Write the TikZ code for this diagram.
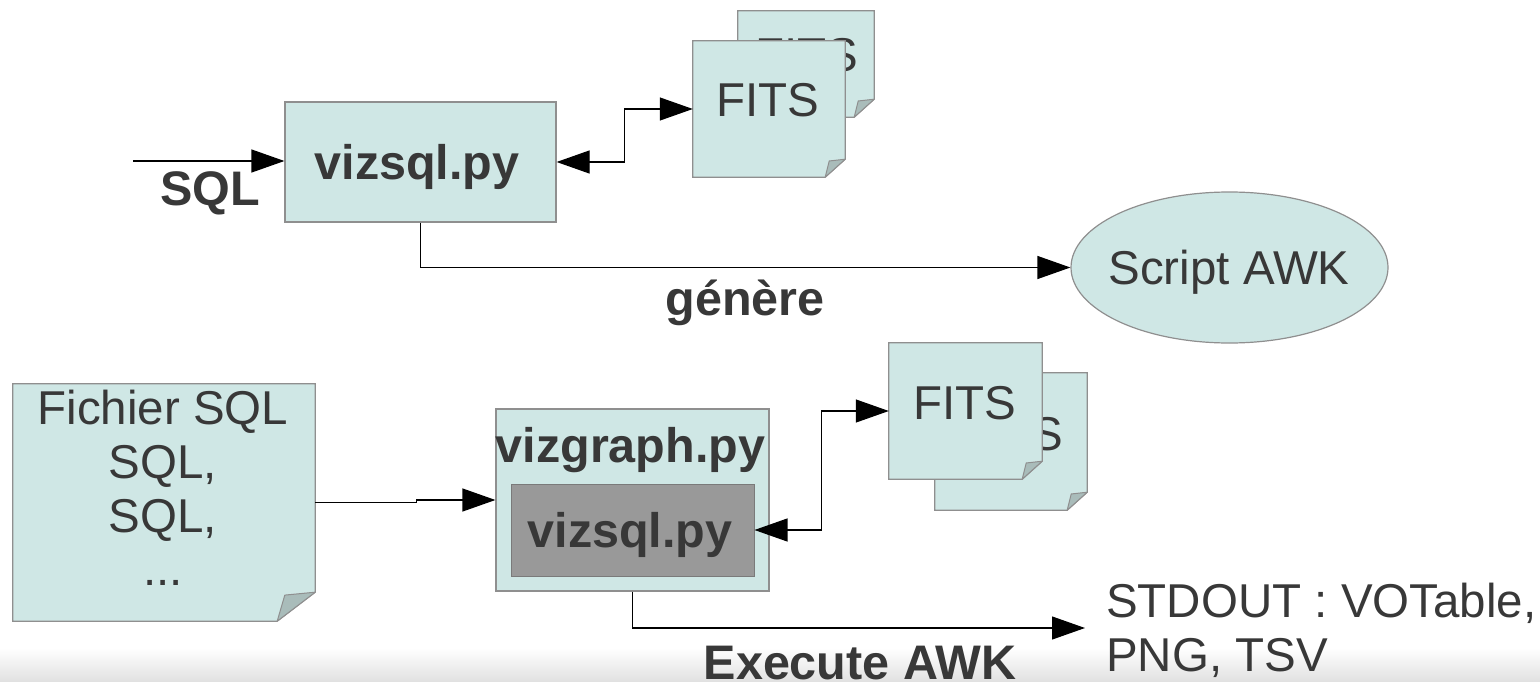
\documentclass[tikz,border=0pt]{standalone}
\usepackage{fontspec}
\setmainfont{Liberation Sans}
\usetikzlibrary{arrows.meta,shapes.geometric}
\definecolor{boxfill}{HTML}{CFE7E5}
\definecolor{boxline}{HTML}{8F8F8F}
\definecolor{foldfill}{HTML}{A9BCBA}
\definecolor{txt}{HTML}{383838}
\definecolor{innerfill}{HTML}{999999}
\definecolor{innerline}{HTML}{7A7A7A}
\tikzset{
  box/.style={rectangle, fill=boxfill, draw=boxline, line width=1.2pt, inner sep=0pt},
  frame/.style={rectangle, inner sep=0pt},
  lbl/.style={font=\fontsize{47.5}{53.7}\selectfont, text=txt, inner sep=0pt, anchor=base},
  blbl/.style={lbl, font=\fontsize{48.5}{53.7}\selectfont\bfseries},
  conn/.style={draw=black, line width=1.2pt},
  tip/.style={-{Triangle[length=33pt,width=23pt]}},
  bitip/.style={{Triangle[length=33pt,width=23pt]}-{Triangle[length=33pt,width=23pt]}},
  docfill/.style={fill=boxfill, draw=boxline, line width=1.2pt, line join=miter},
  foldst/.style={fill=foldfill, draw=boxline, line width=1pt, line join=round},
}
% #1 node name, #2 fold x size, #3 fold y size
\newcommand\docshape[3]{%
  \filldraw[docfill] (#1.north west) -- (#1.north east) -- ([yshift=#3pt]#1.south east)
    -- ([xshift=-#2pt]#1.south east) -- (#1.south west) -- cycle;
  \filldraw[foldst] ([yshift=#3pt]#1.south east) -- ([xshift=-0.8*#2pt,yshift=0.9*#3pt]#1.south east)
    -- ([xshift=-#2pt]#1.south east) -- cycle;
}
\begin{document}
\begin{tikzpicture}[x=1pt,y=-1pt]
\useasboundingbox (0,0) rectangle (1540,682);
% bottom band
\shade[top color=white, bottom color=black!12] (0,648) rectangle (1540,682);

% ---- top row ----
\node[box, minimum width=271pt, minimum height=120pt] (vizsqlA) at (420.5,162) {};
\node[blbl] (tvizsqlA) at (417,179) {vizsql.py};
\coordinate (sqlin) at (133,161);
\node[blbl] (tsql) at (210,205) {SQL};

% FITS stack (top)
\node[frame, minimum width=136pt, minimum height=106pt] (fitsA1) at (806,64) {};
\docshape{fitsA1}{20}{18}
\node[lbl] (tfitsA1) at (807,72) {FITS};
\node[frame, minimum width=152pt, minimum height=136pt] (fitsA2) at (769,109) {};
\docshape{fitsA2}{20}{18}
\node[lbl] (tfitsA2) at (768,117) {FITS};

% Script AWK
\node[ellipse, fill=boxfill, draw=boxline, line width=1.2pt, inner sep=0pt,
      minimum width=317pt, minimum height=151pt] (awk) at (1229.5,267.5) {};
\node[lbl] (tawk) at (1229,284) {Script AWK};
\node[blbl] (tgenere) at (745,315) {génère};

% ---- bottom row ----
\node[frame, minimum width=302pt, minimum height=237pt] (fichier) at (164,502.5) {};
\docshape{fichier}{38}{29}
\node[lbl, align=center, anchor=north] (tfichier) at (163,390) {Fichier SQL\\SQL,\\SQL,\\...};

\node[box, minimum width=273pt, minimum height=182pt] (vizgraph) at (632.5,500) {};
\node[blbl] (tvizgraph) at (630.5,462) {vizgraph.py};
\node[rectangle, fill=innerfill, draw=innerline, line width=1pt, inner sep=0pt,
      minimum width=243pt, minimum height=92pt] (vizsqlB) at (632.5,530) {};
\node[blbl] (tvizsqlB) at (630,547) {vizsql.py};

% FITS stack (bottom)
\node[frame, minimum width=152pt, minimum height=137pt] (fitsB1) at (1011,441.5) {};
\docshape{fitsB1}{20}{18}
\node[lbl] (tfitsB1) at (1012,450) {FITS};
\node[frame, minimum width=153pt, minimum height=136pt] (fitsB2) at (965.5,411) {};
\docshape{fitsB2}{20}{18}
\node[lbl] (tfitsB2) at (965,419) {FITS};

\node[lbl, align=left, anchor=north west] (stdout) at (1106,583) {STDOUT : VOTable,\\PNG, TSV};
\coordinate (outtip) at (1085,628);
\node[blbl] (texec) at (860,679) {Execute AWK};

% ---- connectors ----
\draw[conn,tip] (sqlin) -- (sqlin -| vizsqlA.west);
\draw[conn,bitip] (vizsqlA.east) -- ++(68,0) |- (fitsA2.west);
\draw[conn,tip] (vizsqlA.south) |- (awk.west);
\draw[conn,tip] (fichier.east) -- ++(101,0) |- (vizgraph.west);
\draw[conn,bitip] (vizsqlB.east) -- ++(67,0) |- (fitsB2.west);
\draw[conn,tip] (vizgraph.south) |- (outtip);
\end{tikzpicture}
\end{document}
